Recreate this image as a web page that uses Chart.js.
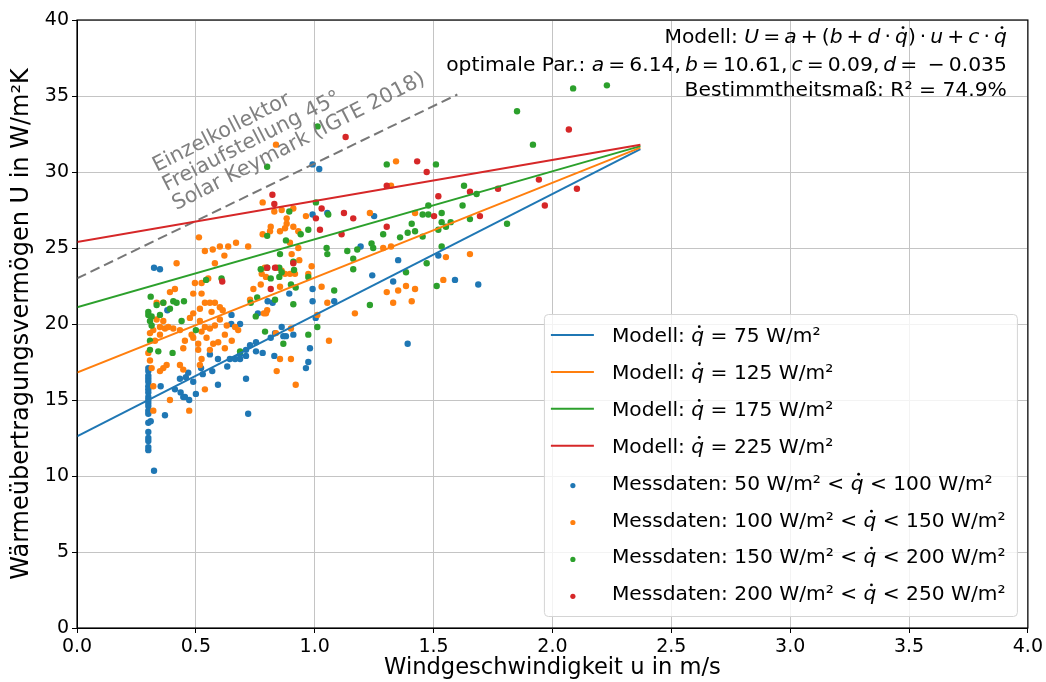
<!DOCTYPE html>
<html><head><meta charset="utf-8">
<script src="https://cdn.jsdelivr.net/npm/chart.js@4/dist/chart.umd.min.js"></script>
<style>html,body{margin:0;padding:0;background:#fff;}canvas{display:block;}</style>
</head><body>
<canvas id="c" width="1046" height="682"></canvas>
<script>
// ---- Data ----
const xTickValues = [0, 0.5, 1, 1.5, 2, 2.5, 3, 3.5, 4];
const xTickLabels = ['0.0','0.5','1.0','1.5','2.0','2.5','3.0','3.5','4.0'];
const yTickValues = [0, 5, 10, 15, 20, 25, 30, 35, 40];
const yTickLabels = ['0','5','10','15','20','25','30','35','40'];

const modelWind = [0, 2.37];
const model75U  = [12.6, 31.5];
const model125U = [16.8, 31.6];
const model175U = [21.1, 31.7];
const model225U = [25.4, 31.8];

const keymarkWind = [0, 1.6];
const keymarkU = [23.0, 35.1];

const blueWind = [0.324,0.349,0.38,0.65,0.649,0.686,0.559,0.593,0.643,0.665,0.632,0.522,0.529,0.569,0.433,0.458,0.468,0.489,0.412,0.436,0.447,0.454,0.5,0.472,0.593,0.352,0.37,
 0.30,0.30,0.30,0.30,0.30,0.30,0.30,0.30,0.30,0.30,0.30,0.30,0.30,0.30,0.30,0.30,0.30,0.30,0.30,0.30,
 0.31,0.324,0.72,
 0.991,1.019,0.991,1.053,0.991,0.991,0.893,0.802,0.823,1.082,1.004,0.761,0.861,0.879,0.91,0.868,0.815,0.833,0.753,0.728,0.711,0.686,0.753,0.781,0.686,0.711,0.83,0.98,0.973,0.963,0.711,
 1.25,1.193,1.351,1.52,1.242,1.33,1.59,1.688,1.391];
const blueU = [23.7,23.6,20.9,20.6,20.0,20.0,18.0,17.7,17.7,17.7,17.2,17.1,16.7,16.9,16.4,16.5,16.8,16.2,15.7,15.5,15.2,15.2,15.4,15.0,16.0,15.9,14.0,
 17.1,16.9,16.6,16.4,16.2,15.9,15.7,15.5,15.2,15.0,14.8,14.6,14.3,14.1,13.5,12.9,12.5,12.3,11.9,11.7,
 13.6,10.35,14.1,
 30.5,30.2,27.2,27.3,22.3,21.5,22.0,21.5,21.4,21.5,20.4,20.7,19.8,19.2,19.3,19.2,19.1,19.4,18.8,18.6,18.3,18.0,18.2,18.1,17.7,17.9,17.9,18.4,17.5,17.1,16.4,
 27.1,25.1,24.2,24.5,23.2,22.8,22.9,22.6,18.7];

const orangeWind = [0.513,0.538,0.571,0.601,0.62,0.636,0.669,
 0.419,0.58,0.552,0.496,0.524,0.391,0.412,0.489,0.524,0.335,0.363,0.538,0.559,0.58,0.601,0.613,0.489,0.517,0.566,0.475,0.335,0.363,0.349,0.37,0.321,0.405,0.433,0.384,0.517,0.538,0.524,0.559,0.58,0.601,0.63,0.665,0.678,0.307,0.328,0.349,0.454,0.482,0.489,0.51,0.545,0.573,0.594,0.622,0.651,0.447,0.51,0.559,0.622,0.3,0.307,0.314,0.377,0.363,0.349,0.433,0.447,0.524,0.517,0.321,0.391,0.321,0.472,0.538,
 0.781,0.83,0.861,0.91,0.882,0.882,0.875,0.815,0.963,0.781,0.812,0.854,0.91,0.931,0.896,0.903,0.931,0.935,0.72,0.79,0.777,0.795,0.84,0.861,0.875,0.896,0.917,0.987,0.973,0.773,0.742,0.854,0.728,0.8,0.786,0.795,1.029,1.053,1.011,0.837,0.9,1.06,0.854,0.9,0.84,0.92,
 1.342,1.321,1.232,1.422,1.288,1.321,1.552,1.653,1.541,1.303,1.351,1.384,1.422,1.33,1.408,1.169,
 0.837];
const orangeU = [25.7,24.8,24.9,25.1,24.5,25.1,25.35,
 24.0,24.0,23.0,22.7,22.7,22.1,22.3,22.0,22.0,21.4,21.4,21.4,21.4,21.4,21.1,20.9,20.7,21.0,20.8,20.4,20.3,20.2,19.8,19.7,19.6,19.7,19.6,19.8,20.2,19.8,19.5,19.7,19.9,20.3,19.9,19.8,19.6,19.4,18.9,19.3,18.9,19.3,19.1,18.7,19.1,18.7,18.8,19.3,18.9,18.4,18.3,18.3,18.4,18.1,17.6,17.1,17.3,17.1,16.9,17.3,17.0,17.7,17.3,15.9,15.0,14.3,14.3,15.7,
 28.0,27.4,27.5,27.6,26.95,26.6,26.3,26.4,27.1,25.9,26.1,26.1,26.4,26.1,25.35,24.6,25.0,24.2,25.1,23.7,23.3,23.1,23.7,23.5,23.3,23.3,23.3,23.8,23.3,22.6,22.3,22.45,21.6,20.9,20.7,20.7,22.45,21.4,20.6,19.4,19.7,18.9,17.7,17.7,16.9,16.0,
 30.7,29.1,27.3,27.3,25.0,25.1,24.4,24.6,22.9,22.1,22.2,22.5,22.3,21.4,21.5,20.7,
 31.8];

const greenWind = [0.608,0.543,0.31,0.335,0.363,0.391,0.405,0.419,0.45,0.3,0.3,0.314,0.307,0.314,0.349,0.44,0.5,0.307,0.342,0.307,0.402,
 0.8,0.893,1.005,1.057,0.973,0.941,0.8,0.879,1.05,1.053,1.137,0.854,0.773,0.8,0.851,0.861,0.913,0.91,0.815,0.851,0.973,0.9,0.92,1.082,0.758,0.833,0.731,0.91,0.752,0.791,0.973,1.011,0.868,0.686,
 1.303,1.51,1.628,1.681,1.478,1.454,1.478,1.534,1.408,1.391,1.422,1.359,1.288,1.454,1.534,1.552,1.572,1.52,1.622,1.653,1.239,1.246,1.162,1.162,1.179,1.534,1.384,1.471,1.513,1.232,
 2.087,2.229,1.851,1.918,1.809,1.012];
const greenU = [23.0,22.9,21.8,21.25,21.4,21.0,21.5,21.4,21.5,20.8,20.6,20.5,20.2,19.9,20.6,20.2,19.6,18.9,18.2,18.3,18.1,
 30.35,27.4,28.0,27.2,26.2,25.9,25.8,25.5,25.0,24.6,24.8,24.6,23.6,23.7,23.7,23.4,23.55,24.1,23.0,23.1,23.1,22.6,22.4,22.2,21.75,21.6,21.4,21.3,20.5,19.5,19.3,19.8,18.7,18.2,
 30.5,30.5,29.1,28.55,27.8,27.2,27.2,27.3,26.6,26.0,26.1,25.7,25.9,25.75,26.7,26.4,26.7,26.2,27.8,26.9,25.3,25.0,24.3,23.6,24.9,25.1,23.4,24.0,22.5,21.25,
 35.5,35.7,34.0,31.8,26.6,33.0];

const redWind = [0.611,0.822,0.83,1.029,1.123,1.005,1.022,1.113,0.8,0.833,0.91,0.815,
 1.13,1.431,1.471,1.303,1.52,1.653,1.162,1.303,1.502,1.695,
 2.069,1.943,2.103,1.968,1.771];
const redU = [22.8,28.5,27.9,27.6,27.3,26.95,26.2,25.9,23.7,23.7,24.0,22.3,
 32.3,30.7,30.0,29.1,28.4,28.7,26.95,26.4,27.1,27.1,
 32.8,29.5,28.9,27.8,28.9];

const BLUE = '#1f77b4', ORANGE = '#ff7f0e', GREEN = '#2ca02c', RED = '#d62728';
const FONT = 'DejaVu Sans';
const TS = '\u2009'; // thin space as in math text

function pts(xs, ys){ return xs.map((x,i)=>({x:x, y:ys[i]})); }

function lineDs(label, xs, ys, color, order, extra){
  return Object.assign({type:'scatter', label, data:pts(xs,ys), showLine:true, borderColor:color, backgroundColor:color,
    borderWidth:2, pointRadius:0, pointHoverRadius:0, fill:false, order}, extra||{});
}
function scatDs(label, xs, ys, color, order){
  return {type:'scatter', label, data:pts(xs,ys), showLine:false, backgroundColor:color, borderColor:color,
    borderWidth:0, pointRadius:3.2, pointHoverRadius:3.2, order};
}

const legendItems = [
  {kind:'line', color:BLUE,   segs:[{t:'Modell: '},{t:'q',i:1,dot:1},{t:' = 75 W/m²'}]},
  {kind:'line', color:ORANGE, segs:[{t:'Modell: '},{t:'q',i:1,dot:1},{t:' = 125 W/m²'}]},
  {kind:'line', color:GREEN,  segs:[{t:'Modell: '},{t:'q',i:1,dot:1},{t:' = 175 W/m²'}]},
  {kind:'line', color:RED,    segs:[{t:'Modell: '},{t:'q',i:1,dot:1},{t:' = 225 W/m²'}]},
  {kind:'dot', color:BLUE,   segs:[{t:'Messdaten: 50 W/m² < '},{t:'q',i:1,dot:1},{t:' < 100 W/m²'}]},
  {kind:'dot', color:ORANGE, segs:[{t:'Messdaten: 100 W/m² < '},{t:'q',i:1,dot:1},{t:' < 150 W/m²'}]},
  {kind:'dot', color:GREEN,  segs:[{t:'Messdaten: 150 W/m² < '},{t:'q',i:1,dot:1},{t:' < 200 W/m²'}]},
  {kind:'dot', color:RED,    segs:[{t:'Messdaten: 200 W/m² < '},{t:'q',i:1,dot:1},{t:' < 250 W/m²'}]}
];

const annoLines = [
  [{t:'Modell: '},{t:'U',i:1},{t:TS+'='+TS},{t:'a',i:1},{t:TS+'+'+TS+'('},{t:'b',i:1},{t:TS+'+'+TS},{t:'d',i:1},{t:TS+'·'+TS},{t:'q',i:1,dot:1},{t:')'+TS+'·'+TS},{t:'u',i:1},{t:TS+'+'+TS},{t:'c',i:1},{t:TS+'·'+TS},{t:'q',i:1,dot:1}],
  [{t:'optimale Par.: '},{t:'a',i:1},{t:TS+'='+TS+'6.14,'+TS},{t:'b',i:1},{t:TS+'='+TS+'10.61,'+TS},{t:'c',i:1},{t:TS+'='+TS+'0.09,'+TS},{t:'d',i:1},{t:TS+'='+TS+' −'+TS+'0.035'}],
  [{t:'Bestimmtheitsmaß: R² = 74.9%'}]
];

const keymarkText = ['Einzelkollektor', 'Freiaufstellung 45°', 'Solar Keymark (IGTE 2018)'];
const keymarkTextAt = {x:0.335, y:30.0};

function fontFor(s, size){ return (s.i ? 'italic ' : '') + size + 'px "' + FONT + '"'; }
function richWidth(ctx, segs, size){ let w=0; for(const s of segs){ ctx.font=fontFor(s,size); w+=ctx.measureText(s.t).width; } return w; }
function drawRich(ctx, segs, x, y, size){
  for(const s of segs){
    ctx.font = fontFor(s,size);
    ctx.fillText(s.t, x, y);
    const w = ctx.measureText(s.t).width;
    if(s.dot){ ctx.beginPath(); ctx.arc(x + w*0.62, y - size*0.76, size*0.07, 0, Math.PI*2); ctx.fill(); }
    x += w;
  }
}

const decor = {
  id:'decor',
  afterDatasetsDraw(chart){
    const ctx = chart.ctx, ca = chart.chartArea, xs = chart.scales.x, ys = chart.scales.y;
    ctx.save();
    ctx.strokeStyle = '#000'; ctx.lineWidth = 1.2;
    ctx.strokeRect(ca.left, ca.top, ca.right-ca.left, ca.bottom-ca.top);

    // rotated keymark text
    ctx.save();
    ctx.translate(xs.getPixelForValue(keymarkTextAt.x), ys.getPixelForValue(keymarkTextAt.y));
    ctx.rotate(-27*Math.PI/180);
    ctx.fillStyle = '#808080'; ctx.font = '20.8px "' + FONT + '"'; ctx.textBaseline = 'alphabetic'; ctx.textAlign='left';
    keymarkText.forEach((t,i)=>ctx.fillText(t, 0, i*21.5));
    ctx.restore();

    // annotation top right
    ctx.fillStyle = '#000'; ctx.textBaseline = 'alphabetic'; ctx.textAlign = 'left';
    const aSize = 20.3, aRight = ca.right - 21, aBase = [ca.top+23, ca.top+51, ca.top+76];
    annoLines.forEach((segs,i)=>{ const w = richWidth(ctx, segs, aSize); drawRich(ctx, segs, aRight - w, aBase[i], aSize); });

    // legend
    const bx = ca.right - 484, by = ca.top + 294, bw = 473, bh = 302;
    ctx.beginPath();
    if (ctx.roundRect) ctx.roundRect(bx+0.5, by+0.5, bw, bh, 4); else ctx.rect(bx+0.5, by+0.5, bw, bh);
    ctx.fillStyle = 'rgba(255,255,255,0.8)'; ctx.fill();
    ctx.strokeStyle = '#d4d4d4'; ctx.lineWidth = 1; ctx.stroke();
    const lSize = 20.2;
    legendItems.forEach((it,i)=>{
      const cy = by + 21 + i*36.9;
      if(it.kind==='line'){
        ctx.strokeStyle = it.color; ctx.lineWidth = 2;
        ctx.beginPath(); ctx.moveTo(bx+7, cy); ctx.lineTo(bx+50, cy); ctx.stroke();
      } else {
        ctx.fillStyle = it.color; ctx.beginPath(); ctx.arc(bx+29, cy+3, 2.6, 0, Math.PI*2); ctx.fill();
      }
      ctx.fillStyle = '#000';
      drawRich(ctx, it.segs, bx+68, cy+7, lSize);
    });
    ctx.restore();
  }
};

const tickFont = {family:FONT, size:19};

new Chart(document.getElementById('c'), {
  type:'scatter',
  data:{ datasets:[
    lineDs('Modell: q = 225 W/m²', modelWind, model225U, RED, 1),
    lineDs('Modell: q = 175 W/m²', modelWind, model175U, GREEN, 2),
    lineDs('Modell: q = 125 W/m²', modelWind, model125U, ORANGE, 3),
    lineDs('Modell: q = 75 W/m²',  modelWind, model75U, BLUE, 4),
    lineDs('Solar Keymark', keymarkWind, keymarkU, '#777777', 5, {borderDash:[10,5]}),
    scatDs('Messdaten 200-250', redWind, redU, RED, 6),
    scatDs('Messdaten 150-200', greenWind, greenU, GREEN, 7),
    scatDs('Messdaten 100-150', orangeWind, orangeU, ORANGE, 8),
    scatDs('Messdaten 50-100', blueWind, blueU, BLUE, 9)
  ]},
  options:{
    responsive:false, animation:false, devicePixelRatio:1,
    layout:{padding:{top:20, right:18, left:0, bottom:0}},
    plugins:{legend:{display:false}, tooltip:{enabled:false}},
    scales:{
      x:{type:'linear', min:0, max:4,
        afterBuildTicks:s=>{ s.ticks = xTickValues.map(v=>({value:v})); },
        ticks:{callback:(v)=>{ const i = xTickValues.indexOf(v); return i>=0 ? xTickLabels[i] : ''; }, font:tickFont, color:'#000', padding:3, maxRotation:0, autoSkip:false},
        grid:{color:'#c4c4c4', lineWidth:1, tickColor:'#000', tickLength:5},
        border:{color:'#000', width:1},
        title:{display:true, text:'Windgeschwindigkeit u in m/s', font:{family:FONT, size:22.6}, color:'#000', padding:{top:0,bottom:0}},
        afterFit:s=>{ s.height = 54; }
      },
      y:{type:'linear', min:0, max:40,
        afterBuildTicks:s=>{ s.ticks = yTickValues.map(v=>({value:v})); },
        ticks:{callback:(v)=>{ const i = yTickValues.indexOf(v); return i>=0 ? yTickLabels[i] : ''; }, font:tickFont, color:'#000', padding:3, autoSkip:false},
        grid:{color:'#c4c4c4', lineWidth:1, tickColor:'#000', tickLength:5},
        border:{color:'#000', width:1},
        title:{display:true, text:'Wärmeübertragungsvermögen U in W/m²K', font:{family:FONT, size:24}, color:'#000', padding:{top:7,bottom:0}},
        afterFit:s=>{ s.width = 77; }
      }
    }
  },
  plugins:[decor]
});
</script>
</body></html>
